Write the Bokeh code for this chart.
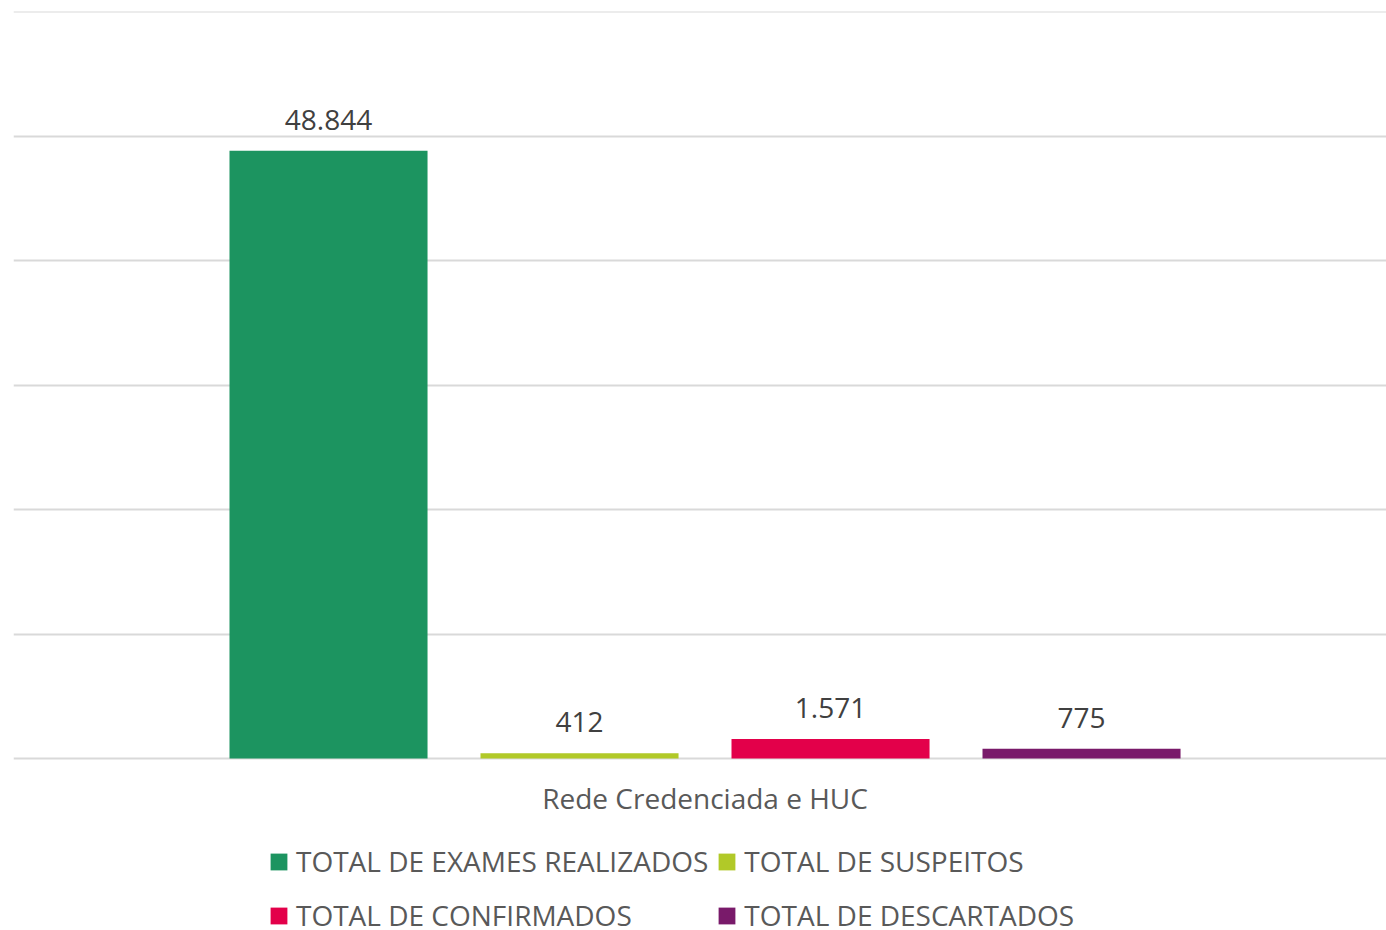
from bokeh.plotting import figure
from bokeh.models import ColumnDataSource, Range1d, FixedTicker, Legend, LegendItem
from bokeh.core.properties import value
from bokeh.embed import file_html
from bokeh.resources import INLINE

category = "Rede Credenciada e HUC"
series = ["TOTAL DE EXAMES REALIZADOS", "TOTAL DE SUSPEITOS",
          "TOTAL DE CONFIRMADOS", "TOTAL DE DESCARTADOS"]
values = [48844, 412, 1571, 775]
labels = ["48.844", "412", "1.571", "775"]
colors = ["#1C9460", "#B1C928", "#E3004A", "#791A6A"]
y_ticks = [0, 10000, 20000, 30000, 40000, 50000, 60000]

FONT = "Open Sans"
n = len(series)
xs = [i - (n - 1) / 2 for i in range(n)]
group_center = sum(xs) / n

# layout: value area 747 px tall, with 172 px below the baseline for labels/legend
Y_TOP = 60030
AREA_PX = 747
BELOW_PX = 172
y_start = -BELOW_PX * Y_TOP / AREA_PX

p = figure(frame_width=1373, frame_height=AREA_PX + BELOW_PX,
           min_border_left=13, min_border_right=0, min_border_top=11, min_border_bottom=0,
           x_range=Range1d(-2.755, 2.715), y_range=Range1d(y_start, Y_TOP),
           output_backend="svg", toolbar_location=None)
p.outline_line_color = None
p.background_fill_color = "white"
p.border_fill_color = "white"

renderers = []
for i in range(n):
    src = ColumnDataSource(dict(x=[xs[i]], top=[values[i]], label=[labels[i]]))
    r = p.vbar(x="x", top="top", bottom=0, width=0.789, source=src,
               fill_color=colors[i], line_color=None)
    renderers.append(r)
    p.text(x="x", y="top", text="label", source=src, text_align="center",
           text_baseline="bottom", y_offset=-21, text_font=value(FONT),
           text_font_size="28px", text_color="#404040")

# category label under the baseline, centred on the group
p.text(x=[group_center], y=[0], text=[category], text_align="center",
       text_baseline="middle", y_offset=39, text_font=value(FONT),
       text_font_size="28px", text_color="#595959")

p.xgrid.visible = False
p.ygrid.ticker = FixedTicker(ticks=y_ticks)
p.ygrid.grid_line_color = "#D9D9D9"
p.ygrid.grid_line_width = 2
p.yaxis.visible = False
p.xaxis.visible = False

legend = Legend(items=[LegendItem(label=series[i], renderers=[renderers[i]]) for i in range(n)],
                ncols=2, location=(255, -8), orientation="horizontal",
                padding=0, margin=0, spacing=8, label_standoff=7,
                glyph_width=21, glyph_height=21, label_height=46,
                border_line_color=None, background_fill_alpha=0,
                label_text_font=FONT, label_text_font_size="28px",
                label_text_color="#595959")
p.add_layout(legend, "center")

open("out.html", "w").write(file_html(p, INLINE))
